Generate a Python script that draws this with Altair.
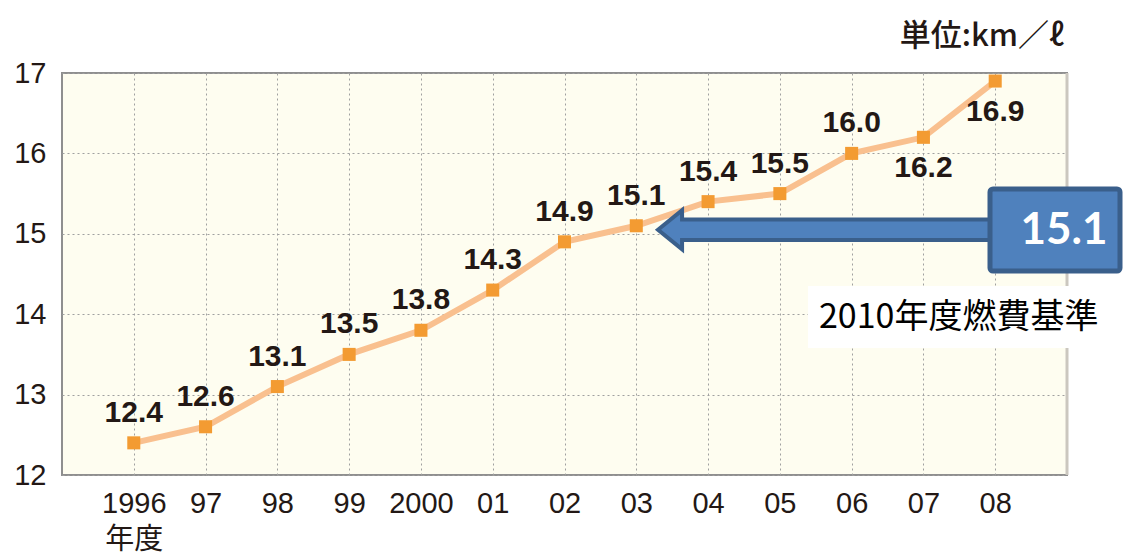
import altair as alt
import pandas as pd

years = ["1996", "97", "98", "99", "2000", "01", "02", "03", "04", "05", "06", "07", "08"]
values = [12.4, 12.6, 13.1, 13.5, 13.8, 14.3, 14.9, 15.1, 15.4, 15.5, 16.0, 16.2, 16.9]
below_years = ["07", "08"]
y_ticks = [12, 13, 14, 15, 16, 17]
benchmark = 15.1
benchmark_text = "2010年度燃費基準"
unit_text = "単位:km／ℓ"

df = pd.DataFrame({"year": years, "value": values})
df["pos"] = ["below" if y in below_years else "above" for y in years]
ann = pd.DataFrame({"bench": [benchmark], "label": [f"{benchmark:.1f}"],
                    "note": [benchmark_text], "unit": [unit_text]})

LAT = "Liberation Sans, Arial, Noto Sans CJK JP"
CJK = "Noto Sans CJK JP"
TXT = "#231815"

x_enc = alt.X("year:N", sort=years, scale=alt.Scale(type="point", padding=1),
              axis=alt.Axis(title=None, labelAngle=0, ticks=False, domain=False,
                            labelFontSize=29, labelColor=TXT, labelFont=LAT,
                            labelPadding=14, labelLineHeight=36,
                            labelExpr="datum.value == '1996' ? ['1996', '年度'] : datum.value",
                            grid=True, gridColor="#a0a0a0", gridDash=[2, 3], gridWidth=1))
y_enc = alt.Y("value:Q", scale=alt.Scale(domain=[12, 17], nice=False, zero=False),
              axis=alt.Axis(title=None, values=y_ticks, format="d", ticks=False, domain=False,
                            labelFontSize=29, labelColor=TXT, labelFont=LAT,
                            labelPadding=16, grid=True, gridColor="#a0a0a0",
                            gridDash=[2, 3], gridWidth=1))

base = alt.Chart(df)
line = base.mark_line(color="#F9C08F", strokeWidth=6).encode(x=x_enc, y=y_enc)
pts = base.mark_point(shape="square", filled=True, color="#F39B32", size=170, opacity=1).encode(
    x=alt.X("year:N", sort=years), y="value:Q")
lab_above = base.transform_filter("datum.pos == 'above'").mark_text(
    dy=-30, fontSize=30, fontWeight="bold", font=LAT, color=TXT).encode(
    x=alt.X("year:N", sort=years), y="value:Q", text=alt.Text("value:Q", format=".1f"))
lab_below = base.transform_filter("datum.pos == 'below'").mark_text(
    dy=31, fontSize=30, fontWeight="bold", font=LAT, color=TXT).encode(
    x=alt.X("year:N", sort=years), y="value:Q", text=alt.Text("value:Q", format=".1f"))

a = alt.Chart(ann)
right_edge = a.mark_rule(color="#cbc7bf", strokeWidth=3).encode(
    x=alt.value(1005), y=alt.value(0), y2=alt.value(402))

arrow_path = ("M -1 0 L -0.855 -0.1175 L -0.855 -0.062 L 1 -0.062 L 1 0.062 "
              "L -0.855 0.062 L -0.855 0.1175 Z")
arrow = a.mark_point(shape=arrow_path, filled=True, fill="#4F81BD", stroke="#3A5F8B",
                     strokeWidth=4, size=332 * 332, opacity=1).encode(
    x=alt.value(762), y="bench:Q", yOffset=alt.value(4))
box = a.mark_rect(fill="#4F81BD", stroke="#3A5F8B", strokeWidth=5, cornerRadius=3).encode(
    x=alt.value(928), x2=alt.value(1058), y=alt.value(116), y2=alt.value(198))
box_text = a.mark_text(fontSize=44, fontWeight="bold", font="Lato, Open Sans", color="white",
                       align="center", baseline="middle").encode(
    x=alt.value(1002), y=alt.value(158), text="label:N")
note_bg = a.mark_rect(fill="white").encode(
    x=alt.value(746), x2=alt.value(1050), y=alt.value(213), y2=alt.value(275))
note = a.mark_text(fontSize=34, font=CJK, color="black", align="left", baseline="middle").encode(
    x=alt.value(757), y=alt.value(245), text="note:N")
unit = a.mark_text(fontSize=31, font=CJK, fontWeight=500, color=TXT, align="right",
                   baseline="middle").encode(
    x=alt.value(1002), y=alt.value(-36), text="unit:N")

chart = alt.layer(line, pts, lab_above, lab_below, right_edge, arrow, box, box_text,
                  note_bg, note, unit).properties(
    width=1005, height=402, autosize="none",
    padding={"left": 62, "top": 73, "right": 60, "bottom": 81},
    background="white",
).configure_view(fill="#FEFDF0", stroke="#8f8f8f", strokeWidth=2)

chart.save("out.html", embed_options={"renderer": "svg", "actions": False})
